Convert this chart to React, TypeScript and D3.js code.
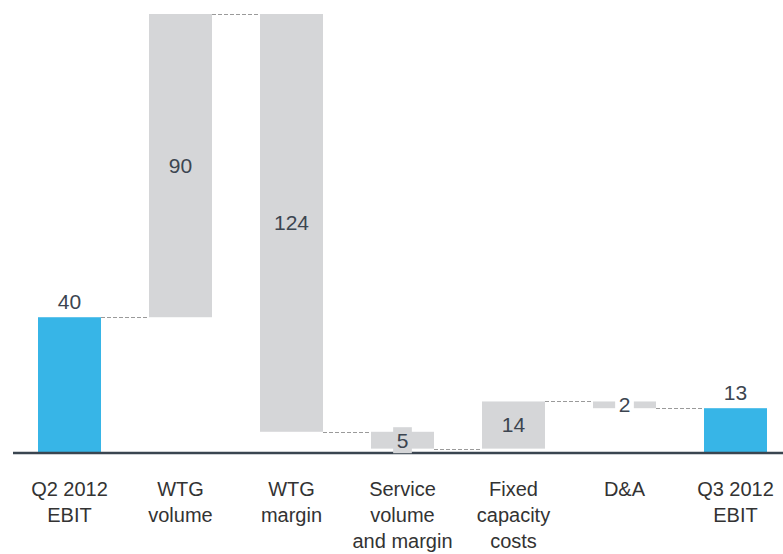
import React from "react";
import * as d3 from "d3";

// EBIT bridge, Q2 2012 -> Q3 2012 (EUR m)
const categories: string[][] = [
  ["Q2 2012", "EBIT"],
  ["WTG", "volume"],
  ["WTG", "margin"],
  ["Service", "volume", "and margin"],
  ["Fixed", "capacity", "costs"],
  ["D&A"],
  ["Q3 2012", "EBIT"],
];
const values: number[] = [40, 90, -124, -5, 14, -2, 13];
const kinds: string[] = ["total", "delta", "delta", "delta", "delta", "delta", "total"];
const valueLabels: string[] = ["40", "90", "124", "5", "14", "2", "13"];

const W = 783;
const H = 554;
const BLUE = "#37b5e7";
const GREY = "#d5d6d8";
const TEXT = "#3c4550";
const FONT = "'Liberation Sans', Arial, Helvetica, sans-serif";

type Step = { i: number; y0: number; y1: number; kind: string; label: string };

function buildSteps(): Step[] {
  let run = 0;
  return values.map((v, i) => {
    if (kinds[i] === "total") {
      run = v;
      return { i, y0: 0, y1: v, kind: "total", label: valueLabels[i] };
    }
    const start = run;
    run += v;
    return { i, y0: start, y1: run, kind: "delta", label: valueLabels[i] };
  });
}

export default function App() {
  const steps = buildSteps();
  const x = d3
    .scaleBand<number>()
    .domain(categories.map((_, i) => i))
    .range([38, 767])
    .paddingInner(0.4324)
    .paddingOuter(0);
  const y = d3.scaleLinear().domain([0, 130]).range([452, 14]);
  const bw = x.bandwidth();

  return (
    <svg
      width={W}
      height={H}
      style={{ position: "absolute", left: 0, top: 0, background: "#fff" }}
      fontFamily={FONT}
    >
      {/* bars */}
      {steps.map((s) => {
        const top = y(Math.max(s.y0, s.y1));
        const bot = y(Math.min(s.y0, s.y1));
        return (
          <rect
            key={"b" + s.i}
            x={x(s.i)}
            y={top}
            width={bw}
            height={bot - top}
            fill={s.kind === "total" ? BLUE : GREY}
          />
        );
      })}
      {/* dashed connectors at running totals */}
      {steps.slice(0, -1).map((s) => {
        const x1 = (x(s.i) as number) + bw;
        const x2 = x(s.i + 1) as number;
        const yy = Math.round(y(s.y1)) + 0.5;
        return (
          <line
            key={"c" + s.i}
            x1={x1}
            x2={x2}
            y1={yy}
            y2={yy}
            stroke="#9a9a9a"
            strokeWidth={1}
            strokeDasharray="4,2"
          />
        );
      })}
      {/* baseline */}
      <line x1={13} x2={W} y1={453} y2={453} stroke="#3a4550" strokeWidth={2.5} />
      {/* value labels */}
      {steps.map((s) => {
        const cx = (x(s.i) as number) + bw / 2;
        const top = y(Math.max(s.y0, s.y1));
        const bot = y(Math.min(s.y0, s.y1));
        const h = bot - top;
        if (s.kind === "total") {
          return (
            <text key={"l" + s.i} x={cx} y={top - 8} textAnchor="middle" fontSize={21} fill={TEXT}>
              {s.label}
            </text>
          );
        }
        const cy = (top + bot) / 2;
        if (h > 30) {
          return (
            <text key={"l" + s.i} x={cx} y={cy} dy="0.35em" textAnchor="middle" fontSize={21} fill={TEXT}>
              {s.label}
            </text>
          );
        }
        const boxW = s.label.length * 11.7 + 7;
        const boxH = 26;
        const thin = h < 10;
        return (
          <g key={"l" + s.i}>
            <rect
              x={cx - boxW / 2}
              y={cy - boxH / 2}
              width={boxW}
              height={boxH}
              fill={thin ? "#fff" : GREY}
            />
            <text x={cx} y={cy} dy="0.36em" textAnchor="middle" fontSize={21} fill={TEXT}>
              {s.label}
            </text>
          </g>
        );
      })}
      {/* category labels */}
      {categories.map((lines, i) => (
        <text
          key={"t" + i}
          x={(x(i) as number) + bw / 2}
          y={496}
          textAnchor="middle"
          fontSize={20}
          fill="#333"
        >
          {lines.map((ln, k) => (
            <tspan key={k} x={(x(i) as number) + bw / 2} dy={k === 0 ? 0 : 26}>
              {ln}
            </tspan>
          ))}
        </text>
      ))}
    </svg>
  );
}
